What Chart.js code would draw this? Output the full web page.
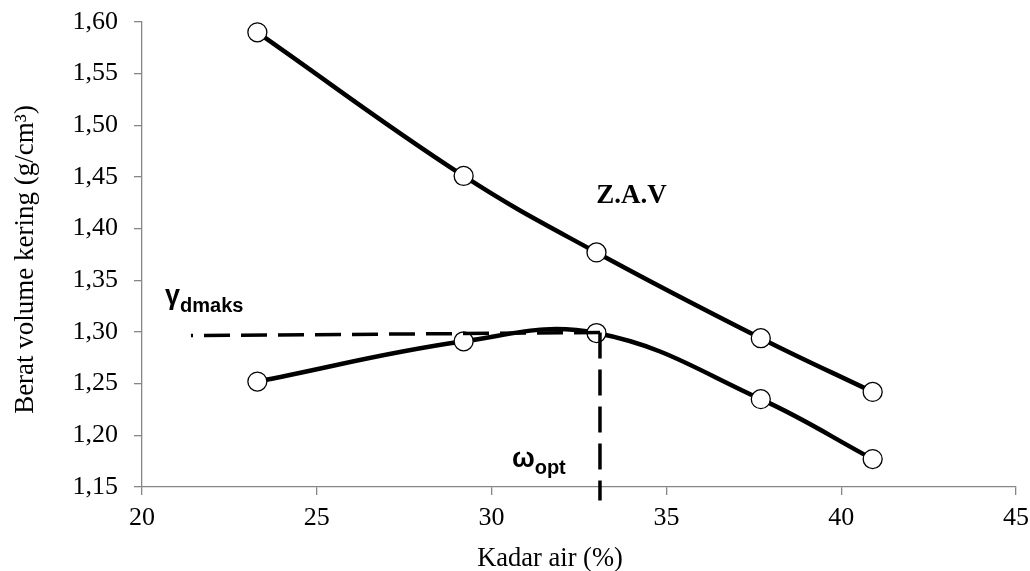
<!DOCTYPE html>
<html>
<head>
<meta charset="utf-8">
<script src="https://cdn.jsdelivr.net/npm/chart.js@4.4.1/dist/chart.umd.min.js"></script>
<style>
  html, body { margin:0; padding:0; background:#fff; }
  #chart { display:block; }
</style>
</head>
<body>
<canvas id="chart" width="1030" height="571"></canvas>
<script>
// data
const kadarAir   = [23.3, 29.2, 33.0, 37.7, 40.9];
const zavValues  = [1.590, 1.451, 1.377, 1.294, 1.242];
const dryValues  = [1.252, 1.291, 1.299, 1.235, 1.177];

// guide lines (gamma dmax / w opt)
const gammaLineX = [33.1, 21.4];
const gammaLineY = [1.2995, 1.2965];
const optLineX   = [33.1, 33.1];
const optLineY   = [1.2995, 1.137];

// ticks
const xTickValues = [20, 25, 30, 35, 40, 45];
const yTickValues = [1.15, 1.20, 1.25, 1.30, 1.35, 1.40, 1.45, 1.50, 1.55, 1.60];

// text labels
const xTitle = "Kadar air (%)";
const yTitle = "Berat volume kering (g/cm³)";
const zavLabel = "Z.A.V";

const $ = (id) => document.getElementById(id);
const pts = (xs, ys) => xs.map((x, i) => ({ x, y: ys[i] }));

const serif = '"Liberation Serif", "Times New Roman", serif';
const sans  = '"Liberation Sans", Arial, sans-serif';
const axisGray = "#868686";

// annotations + axis titles drawn on the canvas
const textPlugin = {
  id: "texts",
  afterDraw(chart){
    const ctx = chart.ctx, xs = chart.scales.x, ys = chart.scales.y, a = chart.chartArea;
    ctx.save();
    ctx.fillStyle = "#000";
    ctx.textBaseline = "alphabetic";

    // Z.A.V
    ctx.font = "bold 27px " + serif;
    ctx.textAlign = "center";
    ctx.fillText(zavLabel, xs.getPixelForValue(34.0), ys.getPixelForValue(1.4245));

    // gamma dmaks
    ctx.textAlign = "left";
    let gx = xs.getPixelForValue(20.66), gy = ys.getPixelForValue(1.3267);
    ctx.font = "bold 27px " + sans;
    ctx.fillText("γ", gx, gy);
    let w = ctx.measureText("γ").width;
    ctx.font = "bold 20px " + sans;
    ctx.fillText("dmaks", gx + w, gy + 8);

    // omega opt
    let ox = xs.getPixelForValue(30.58), oy = ys.getPixelForValue(1.1689);
    ctx.font = "bold 27px " + sans;
    ctx.fillText("ω", ox, oy);
    w = ctx.measureText("ω").width;
    ctx.font = "bold 20px " + sans;
    ctx.fillText("opt", ox + w, oy + 7);

    // axis titles
    ctx.font = "26.5px " + serif;
    ctx.textAlign = "center";
    ctx.fillText(xTitle, a.left + (a.right - a.left) / 2 - 29, 566);
    ctx.font = "27px " + serif;
    ctx.translate(33, a.top + (a.bottom - a.top) / 2 + 5);
    ctx.rotate(-Math.PI / 2);
    ctx.fillText(yTitle, 0, 0);
    ctx.restore();
  }
};

const curveStyle = {
  showLine: true,
  borderColor: "#000",
  borderWidth: 4.5,
  tension: 0.4,
  pointRadius: 9.5,
  pointHoverRadius: 9.5,
  pointBackgroundColor: "#fff",
  pointBorderColor: "#000",
  pointBorderWidth: 1.3
};

const dashStyle = {
  showLine: true,
  borderColor: "#000",
  borderWidth: 3.5,
  borderDash: [26, 11],
  pointRadius: 0,
  tension: 0
};

// keep the plot box where the picture has it (no label overhang padding)
const noPad = (s) => { s.paddingTop = 0; s.paddingBottom = 0; s.paddingLeft = 0; s.paddingRight = 0; };

new Chart($("chart").getContext("2d"), {
  type: "scatter",
  data: {
    datasets: [
      { label: "gamma", data: pts(gammaLineX, gammaLineY), ...dashStyle },
      { label: "opt", data: pts(optLineX, optLineY), ...dashStyle, clip: false },
      { label: "Z.A.V", data: pts(kadarAir, zavValues), ...curveStyle },
      { label: "Kering", data: pts(kadarAir, dryValues), ...curveStyle }
    ]
  },
  options: {
    responsive: false,
    animation: false,
    layout: { padding: { top: 22, right: 14, left: 0, bottom: 0 } },
    plugins: { legend: { display: false }, tooltip: { enabled: false } },
    scales: {
      x: {
        type: "linear", min: 20, max: 45,
        afterBuildTicks: (s) => { s.ticks = xTickValues.map(v => ({ value: v })); },
        afterFit: (s) => { s.height = 84; noPad(s); },
        border: { color: axisGray, width: 1.3 },
        grid: { display: true, drawOnChartArea: false, drawTicks: true, tickLength: 8, color: axisGray, lineWidth: 1.3 },
        ticks: { color: "#000", padding: 8, font: { family: serif, size: 26 }, maxRotation: 0 }
      },
      y: {
        type: "linear", min: 1.15, max: 1.60,
        afterBuildTicks: (s) => { s.ticks = yTickValues.map(v => ({ value: v })); },
        afterFit: (s) => { s.width = 142; noPad(s); },
        border: { color: axisGray, width: 1.3 },
        grid: { display: true, drawOnChartArea: false, drawTicks: true, tickLength: 8, color: axisGray, lineWidth: 1.3 },
        ticks: { color: "#000", padding: 16, font: { family: serif, size: 26 },
                 callback: (v) => Number(v).toFixed(2).replace(".", ",") }
      }
    }
  },
  plugins: [textPlugin]
});
</script>
</body>
</html>
